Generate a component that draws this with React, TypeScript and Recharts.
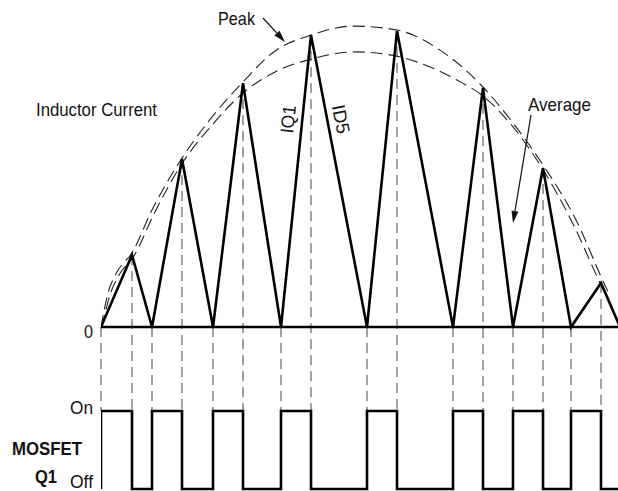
import React from 'react';
import { ComposedChart, Line, XAxis, YAxis, ReferenceLine, ReferenceDot } from 'recharts';

// Inductor current triangle: vertex times (arb. time units) and current (100 ~ line peak)
const CURRENT_T = [0, 6.2, 10.2, 16.2, 22.4, 28.4, 36, 42, 53.2, 59.2, 70.4, 76.4, 82.4, 88.4, 94, 100, 103.8];
const CURRENT_I = [0, 24, 0, 56, 0, 81.3, 0, 97.3, 0, 98.7, 0, 79.7, 0, 53, 0, 14.7, 0];

// Peak envelope (dashed)
const PEAK_T = [0, 1.4, 3.2, 6.2, 10.2, 16.2, 22.2, 28.4, 34.8, 42, 50.4, 59.2, 67.8, 76.4, 82.4, 88.4, 95.2, 100.4, 101.8];
const PEAK_I = [0, 11.3, 18.3, 24.7, 39, 56.3, 70, 81.7, 92, 97.3, 100.3, 99, 92.3, 80, 68, 54, 35, 15.3, 10.3];

// Average envelope (dashed)
const AVG_T = [0.2, 1.8, 3.6, 6.6, 10.6, 16.4, 22.2, 28.4, 34.8, 42, 50.8, 57.8, 63.8, 71.2, 76.4, 82.4, 88.2, 94.6, 99.8, 101.2];
const AVG_I = [0, 10.7, 17.3, 23.7, 37.7, 55, 67.3, 78, 85, 89.3, 91.7, 90.7, 88, 82.3, 77, 66.7, 53, 33.7, 14.7, 10];

// MOSFET Q1 gate state (1 = On, 0 = Off), step-after
const GATE_T = [0, 0, 6.2, 10.2, 16.2, 22.4, 28.4, 36, 42, 53.2, 59.2, 70.4, 76.4, 82.4, 88.4, 94, 100, 104];
const GATE_STATE = [0, 1, 0, 1, 0, 1, 0, 1, 0, 1, 0, 1, 0, 1, 0, 1, 0, 0];

// the gate trace shares the value axis, drawn below the current trace
const GATE_ON = -28;
const GATE_OFF = -54;
const LEVEL_LABELS: Record<number, string> = { 0: '0', [GATE_ON]: 'On', [GATE_OFF]: 'Off' };
const LEVEL_DY: Record<number, number> = { 0: 4, [GATE_ON]: -4, [GATE_OFF]: -8 };
const LEVEL_W: Record<number, number> = { 0: 9, [GATE_ON]: 23, [GATE_OFF]: 23 };

const FONT = '"Liberation Sans", Arial, Helvetica, sans-serif';
const FONT_SIZE = 18.5;

const currentData = CURRENT_T.map((t, k) => ({ t, i: CURRENT_I[k] }));
const peakData = PEAK_T.map((t, k) => ({ t, i: PEAK_I[k] }));
const avgData = AVG_T.map((t, k) => ({ t, i: AVG_I[k] }));
const gateData = GATE_T.map((t, k) => ({ t, i: GATE_STATE[k] ? GATE_ON : GATE_OFF }));

// drop lines from each vertex down to the gate "On" level (last valley is off the page)
const dropLines = currentData.slice(0, -1);

interface Note {
  text: string;
  t: number;
  i: number;
  w: number;
  anchor: 'start' | 'middle' | 'end';
  central?: boolean;
  rotate?: number;
  bold?: boolean;
}

const NOTES: Note[] = [
  { text: 'Inductor Current', t: -13, i: 70.3, w: 121, anchor: 'start' },
  { text: 'Peak', t: 23.4, i: 100.7, w: 37, anchor: 'start' },
  { text: 'Average', t: 85.4, i: 72, w: 63, anchor: 'start' },
  { text: 'IQ1', t: 37.4, i: 69.3, w: 28, anchor: 'middle', central: true, rotate: -84 },
  { text: 'ID5', t: 48, i: 69.3, w: 29, anchor: 'middle', central: true, rotate: 79 },
  { text: 'MOSFET', t: -10.8, i: -42.7, w: 70, anchor: 'middle', bold: true },
  { text: 'Q1', t: -11, i: -52, w: 22, anchor: 'middle', bold: true },
];

const ARROWS = [
  { from: { x: 32.4, y: 103 }, to: { x: 36.8, y: 95 } },
  { from: { x: 86, y: 70.7 }, to: { x: 82.4, y: 34.7 } },
];

const LevelTick = (props: any) => {
  const { x, y, payload } = props;
  return (
    <text
      x={x}
      y={y + (LEVEL_DY[payload.value] ?? 0)}
      textAnchor="end"
      dominantBaseline="central"
      fontSize={FONT_SIZE}
      fontFamily={FONT}
      textLength={LEVEL_W[payload.value]}
      lengthAdjust="spacingAndGlyphs"
      fill="#111"
    >
      {LEVEL_LABELS[payload.value]}
    </text>
  );
};

const ArrowShape = (props: any) => {
  const { x1, y1, x2, y2 } = props;
  const dx = x2 - x1;
  const dy = y2 - y1;
  const len = Math.hypot(dx, dy) || 1;
  const ux = dx / len;
  const uy = dy / len;
  const head = 12;
  const half = 3.5;
  const bx = x2 - ux * head;
  const by = y2 - uy * head;
  const pts = `${x2},${y2} ${bx - uy * half},${by + ux * half} ${bx + uy * half},${by - ux * half}`;
  return (
    <g>
      <line x1={x1} y1={y1} x2={bx} y2={by} stroke="#111" strokeWidth={1.2} />
      <polygon points={pts} fill="#111" />
    </g>
  );
};

const renderNote = (n: Note) => (p: any) => {
  const { cx, cy } = p;
  return (
    <text
      x={cx}
      y={cy}
      textAnchor={n.anchor}
      dominantBaseline={n.central ? 'central' : 'alphabetic'}
      transform={n.rotate ? `rotate(${n.rotate} ${cx} ${cy})` : undefined}
      fontSize={FONT_SIZE}
      fontWeight={n.bold ? 700 : 400}
      fontFamily={FONT}
      textLength={n.w}
      lengthAdjust="spacingAndGlyphs"
      fill="#111"
    >
      {n.text}
    </text>
  );
};

export default function App() {
  return (
    <div style={{ position: 'absolute', left: 0, top: 0, background: '#fff' }}>
      <ComposedChart width={621} height={495} margin={{ top: 0, right: 0, bottom: 0, left: 0 }}>
        <XAxis type="number" dataKey="t" domain={[0, 104]} hide allowDataOverflow />
        <YAxis
          type="number"
          domain={[-56, 109]}
          ticks={[0, GATE_ON, GATE_OFF]}
          interval={0}
          width={101}
          axisLine={false}
          tickLine={false}
          tick={<LevelTick />}
          allowDataOverflow
        />

        {dropLines.map((d) => (
          <ReferenceLine
            key={`drop-${d.t}`}
            segment={[{ x: d.t, y: d.i }, { x: d.t, y: GATE_ON }]}
            stroke="#444"
            strokeWidth={1}
            strokeDasharray="10 6"
            ifOverflow="visible"
          />
        ))}

        <ReferenceLine y={0} stroke="#000" strokeWidth={2.6} />

        <Line
          data={peakData}
          dataKey="i"
          type="monotone"
          stroke="#222"
          strokeWidth={1.1}
          strokeDasharray="12 6"
          dot={false}
          isAnimationActive={false}
        />
        <Line
          data={avgData}
          dataKey="i"
          type="monotone"
          stroke="#222"
          strokeWidth={1.1}
          strokeDasharray="12 6"
          dot={false}
          isAnimationActive={false}
        />
        <Line
          data={currentData}
          dataKey="i"
          type="linear"
          stroke="#000"
          strokeWidth={2.6}
          dot={false}
          isAnimationActive={false}
        />
        <Line
          data={gateData}
          dataKey="i"
          type="stepAfter"
          stroke="#000"
          strokeWidth={2.6}
          dot={false}
          isAnimationActive={false}
        />

        {ARROWS.map((a, k) => (
          <ReferenceLine key={`arrow-${k}`} segment={[a.from, a.to]} ifOverflow="visible" shape={ArrowShape} />
        ))}

        {NOTES.map((n) => (
          <ReferenceDot
            key={n.text}
            x={n.t}
            y={n.i}
            r={0}
            ifOverflow="visible"
            shape={renderNote(n)}
          />
        ))}
      </ComposedChart>
    </div>
  );
}
